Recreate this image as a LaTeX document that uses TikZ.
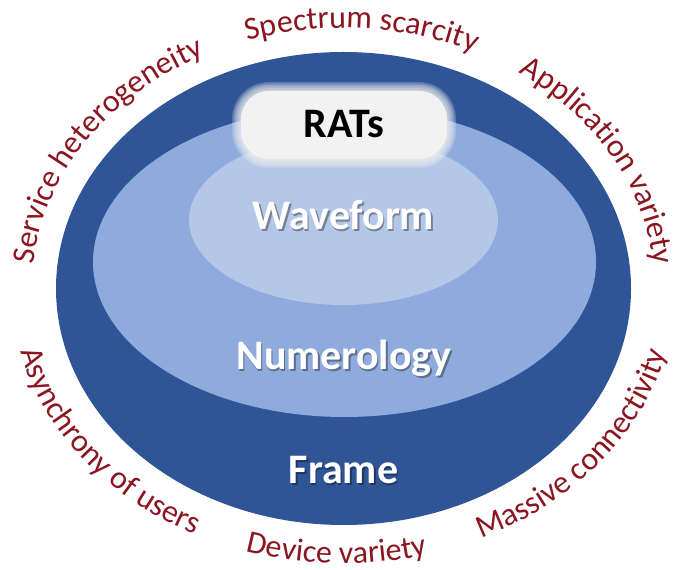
\documentclass[tikz,border=0pt]{standalone}
\usepackage{fontspec}
\setmainfont{Carlito}
\usetikzlibrary{positioning,shapes.geometric,decorations.text}
\definecolor{frameblue}{HTML}{2F5597}
\definecolor{numblue}{HTML}{8FAADC}
\definecolor{waveblue}{HTML}{B4C7E7}
\definecolor{ratsgray}{HTML}{F2F2F2}
\definecolor{cuered}{RGB}{139,21,32}
\newcommand\layerfont{\fontsize{42}{42}\selectfont\bfseries}
\newcommand\cuefont{\fontsize{32}{32}\selectfont}

\begin{document}
\begin{tikzpicture}[x=1pt,y=1pt,
        layer/.style={ellipse, inner sep=0pt},
        softbox/.style={fill=ratsgray, opacity=0.22, inner sep=0pt},
        layertext/.style={font=\layerfont, text=white, anchor=base, inner sep=0pt},
        textshadow/.style={font=\layerfont, text=black, opacity=0.35, anchor=base, inner sep=0pt, xshift=1.5pt, yshift=-1.5pt},
        cue/.style={decorate, decoration={text along path, text align=center, text color=cuered}}]
        \useasboundingbox (0,0) rectangle (680,570);
        \coordinate (c) at (343.5,281.5);
        \node[layer, fill=frameblue, minimum width=575pt, minimum height=473pt] (frame) at (c) {};
        \node[layer, fill=numblue, minimum width=503pt, minimum height=310pt] (numerology) at (344.5,308) {};
        \node[layer, fill=waveblue, minimum width=309pt, minimum height=170pt] (waveform) at (343.5,350) {};
        \coordinate (ratspos) at (344,445);
        \foreach \g in {18,15,...,3}
                \node[softbox, minimum width={206pt+\g pt}, minimum height={68pt+\g pt}, rounded corners={28pt+\g pt/2}] (soft\g) at (ratspos) {};
        \node[fill=ratsgray, inner sep=0pt, rounded corners=28pt, minimum width=206pt, minimum height=68pt] (ratsbox) at (ratspos) {};
        \node[font=\layerfont, anchor=base, inner sep=0pt] (ratstext) at (344,432) {RATs};
        \node[textshadow] (waveshadow) at (343.5,340) {Waveform};
        \node[layertext] (wavetext) at (343.5,340) {Waveform};
        \node[textshadow] (numshadow) at (344,200) {Numerology};
        \node[layertext] (numtext) at (344,200) {Numerology};
        \node[textshadow] (frameshadow) at (343.5,86) {Frame};
        \node[layertext] (frametext) at (343.5,86) {Frame};
        \path[cue, decoration={text={|\cuefont|Service heterogeneity}}]
                (c) ++(181:311.5pt and 260.5pt) arc[start angle=181, end angle=111, x radius=311.5pt, y radius=260.5pt];
        \path[cue, decoration={text={|\cuefont|Spectrum scarcity}}]
                (c) ++(113:311.5pt and 260.5pt) arc[start angle=113, end angle=60, x radius=311.5pt, y radius=260.5pt];
        \path[cue, decoration={text={|\cuefont|Application variety}}]
                (c) ++(59:311.5pt and 260.5pt) arc[start angle=59, end angle=1.5, x radius=311.5pt, y radius=260.5pt];
        \path[cue, decoration={text={|\cuefont|Asynchrony of users}}]
                (c) ++(186:332pt and 275pt) arc[start angle=186, end angle=249.5, x radius=332pt, y radius=275pt];
        \path[cue, decoration={text={|\cuefont|Device variety}}]
                (c) ++(249:332pt and 275pt) arc[start angle=249, end angle=288.5, x radius=332pt, y radius=275pt];
        \path[cue, decoration={text={|\cuefont|Massive connectivity}}]
                (c) ++(289:332pt and 275pt) arc[start angle=289, end angle=353, x radius=332pt, y radius=275pt];
\end{tikzpicture}
\end{document}
